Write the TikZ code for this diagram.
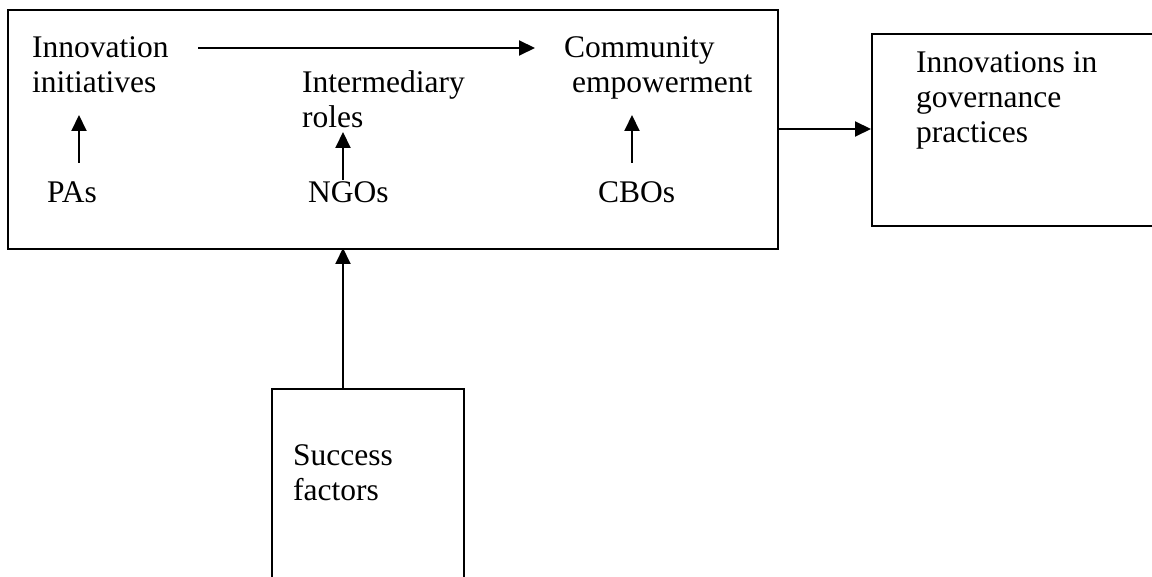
\documentclass[tikz,border=0pt]{standalone}
\usepackage{fontspec}
\setmainfont{Liberation Serif}
\usetikzlibrary{arrows.meta}
\begin{document}
\begin{tikzpicture}[x=1pt,y=-1pt,
  box/.style={draw, line width=2pt, anchor=north west, inner sep=0pt},
  lbl/.style={anchor=base west, inner sep=0pt, align=left, font=\fontsize{31.5}{35}\selectfont},
  arr/.style={line width=2pt, -{Triangle[length=16pt,width=15pt]}}]
\clip (0,0) rectangle (1152,577);
\fill[white] (0,0) rectangle (1152,577);
% boxes
\node[box, minimum width=770pt, minimum height=239pt] (main) at (7,9) {};
\node[box, minimum width=400pt, minimum height=192pt] (gov) at (871,33) {};
\node[box, minimum width=192pt, minimum height=300pt] (sf) at (271,388) {};
% texts (base anchor = baseline of the last line)
\node[lbl] (init) at (32,93) {Innovation\\initiatives};
\node[lbl] (inter) at (302,128) {Intermediary\\roles};
\node[lbl] (comm) at (564,93) {Community\\\hspace*{8pt}empowerment};
\node[lbl] (pas) at (47,203) {PAs};
\node[lbl] (ngos) at (308,203) {NGOs};
\node[lbl] (cbos) at (598,203) {CBOs};
\node[lbl] (govt) at (916,143) {Innovations in\\governance\\practices};
\node[lbl] (sft) at (293,500) {Success\\factors};
% connector coordinates
\coordinate (h1) at (198,48);
\coordinate (h2) at (535,48);
\coordinate (pa1) at (79,163);
\coordinate (pa2) at (79,115);
\coordinate (ng1) at (343,180);
\coordinate (ng2) at (343,132);
\coordinate (cb1) at (632,163);
\coordinate (cb2) at (632,115);
\coordinate (sfa) at (343,388);
\coordinate (mna) at (343,248);
\coordinate (mr) at (777,129);
\coordinate (gl) at (871,129);
% connectors
\draw[arr] (h1) -- (h2);
\draw[arr] (pa1) -- (pa2);
\draw[arr] (ng1) -- (ng2);
\draw[arr] (cb1) -- (cb2);
\draw[arr] (sfa) -- (mna);
\draw[arr] (mr) -- (gl);
\end{tikzpicture}
\end{document}
